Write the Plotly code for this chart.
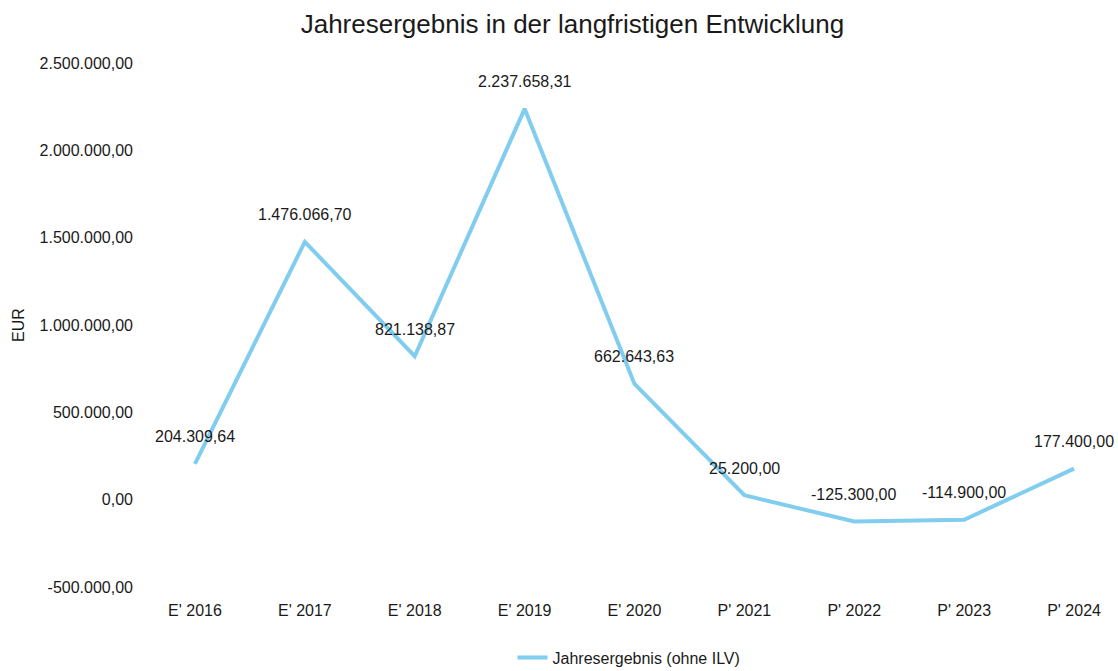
import plotly.graph_objects as go

# Jahresergebnis (ohne ILV), Ist- (E') und Planwerte (P')
categories = ["E' 2016", "E' 2017", "E' 2018", "E' 2019", "E' 2020",
              "P' 2021", "P' 2022", "P' 2023", "P' 2024"]
values = [204309.64, 1476066.70, 821138.87, 2237658.31, 662643.63,
          25200.00, -125300.00, -114900.00, 177400.00]
y_ticks = [-500000, 0, 500000, 1000000, 1500000, 2000000, 2500000]


def de_format(v):
    s = f"{v:,.2f}"
    return s.replace(",", "X").replace(".", ",").replace("X", ".")


font_family = "Liberation Sans, Arial, sans-serif"
ink = "#1a1a1a"

fig = go.Figure()
fig.add_trace(go.Scatter(
    x=categories,
    y=values,
    mode="lines",
    name="Jahresergebnis (ohne ILV)",
    line=dict(color="#80cdef", width=4),
))

# Wertbeschriftungen oberhalb der Punkte
for cat, v in zip(categories, values):
    fig.add_annotation(
        x=cat, y=v, text=de_format(v), showarrow=False,
        yshift=27, xanchor="center", yanchor="middle",
        font=dict(family=font_family, size=16, color=ink),
    )

fig.update_layout(
    width=1118,
    height=671,
    paper_bgcolor="white",
    plot_bgcolor="white",
    margin=dict(l=140, r=0, t=63, b=84, autoexpand=False),
    title=dict(
        text="Jahresergebnis in der langfristigen Entwicklung",
        x=0.512, xanchor="center", y=0.965, yanchor="middle",
        font=dict(family=font_family, size=26, color=ink),
    ),
    font=dict(family=font_family, size=16, color=ink),
    showlegend=True,
    legend=dict(
        orientation="h", x=0.5, xanchor="center",
        yref="container", y=0.02, yanchor="middle",
        font=dict(family=font_family, size=16, color=ink),
    ),
    xaxis=dict(
        type="category",
        range=[-0.5, 8.4],
        showgrid=False, zeroline=False, showline=False,
        ticks="", ticklabelstandoff=12, automargin=False,
        tickfont=dict(family=font_family, size=16, color=ink),
    ),
    yaxis=dict(
        range=[-500000, 2500000],
        tickvals=y_ticks,
        ticktext=[de_format(v) for v in y_ticks],
        showgrid=False, zeroline=False, showline=False,
        ticks="", ticklabelstandoff=6, automargin=False,
        tickfont=dict(family=font_family, size=16, color=ink),
        title=dict(text="EUR", standoff=10,
                   font=dict(family=font_family, size=16, color=ink)),
    ),
)

fig.write_html("out.html")
